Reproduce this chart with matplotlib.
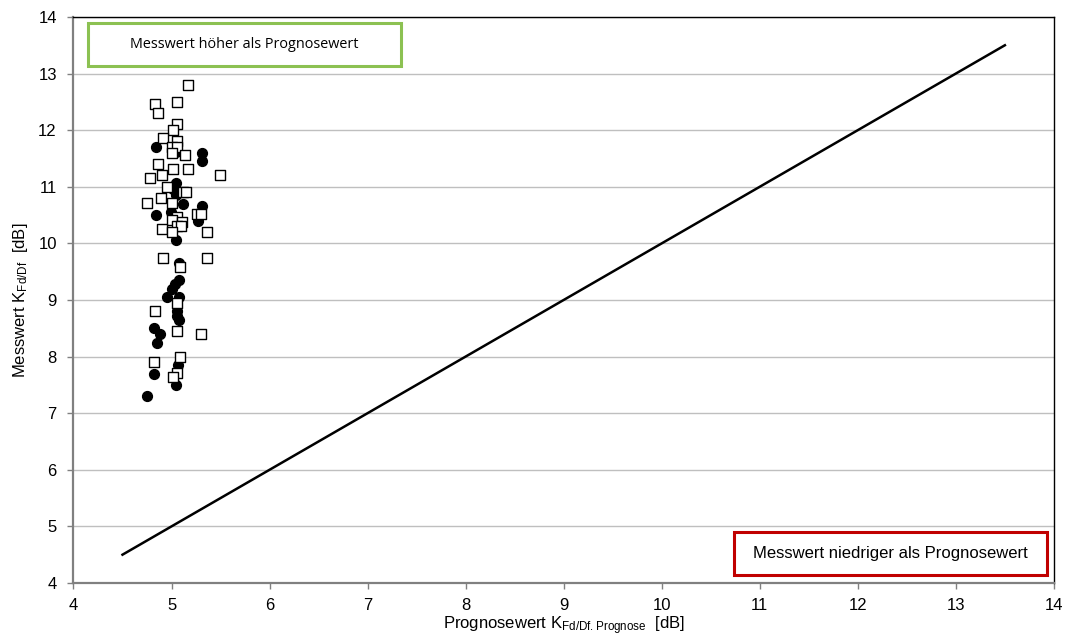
import matplotlib
matplotlib.use("Agg")
import matplotlib.pyplot as plt
from matplotlib.patches import Rectangle

plt.rcParams['font.family'] = ['Liberation Sans', 'DejaVu Sans']
plt.rcParams['mathtext.default'] = 'regular'

# Messwerte (offene Quadrate)
sq_x = [5.17, 4.83, 5.06, 4.86, 5.06, 5.02, 4.91, 5.06, 5.00, 5.06, 5.00, 5.14,
        4.86, 5.02, 5.17, 4.90, 4.78, 5.49, 4.95, 5.12, 5.15, 4.89, 4.75, 5.00,
        5.26, 5.30, 5.06, 5.00, 5.11, 5.06, 5.10, 4.90, 5.00, 5.36, 4.91, 5.36,
        5.09, 5.06, 4.83, 5.06, 5.30, 5.09, 4.82, 5.06, 5.02]
sq_y = [12.80, 12.46, 12.50, 12.30, 12.11, 12.00, 11.86, 11.81, 11.71, 11.71, 11.60, 11.56,
        11.41, 11.31, 11.31, 11.21, 11.16, 11.20, 11.00, 10.90, 10.90, 10.81, 10.71, 10.71,
        10.51, 10.51, 10.47, 10.41, 10.37, 10.31, 10.30, 10.25, 10.20, 10.20, 9.75, 9.75,
        9.59, 8.95, 8.81, 8.46, 8.40, 8.00, 7.90, 7.71, 7.64]

# Messwerte (gefüllte Kreise)
ci_x = [4.84, 5.05, 5.31, 5.31, 5.05, 5.01, 5.05, 5.12, 5.31, 4.84, 4.99, 5.27,
        5.05, 5.08, 5.08, 5.04, 5.00, 4.95, 5.08, 5.06, 5.06, 5.08, 4.82, 4.88,
        4.85, 5.07, 4.82, 5.05, 4.75]
ci_y = [11.70, 11.61, 11.60, 11.46, 11.06, 10.96, 10.86, 10.70, 10.66, 10.50, 10.55, 10.40,
        10.06, 9.65, 9.35, 9.28, 9.20, 9.05, 9.05, 8.81, 8.71, 8.65, 8.50, 8.39,
        8.24, 7.85, 7.69, 7.50, 7.31]

# Winkelhalbierende: Messwert = Prognosewert
diag = [4.5, 13.5]

fig = plt.figure(figsize=(10.68, 6.37), dpi=100)
ax = fig.add_axes([0.0688, 0.0848, 0.918, 0.8886])

ax.plot(diag, diag, color='black', lw=1.8, zorder=2)
ax.scatter(ci_x, ci_y, s=50, marker='o', color='black', zorder=3)
ax.scatter(sq_x, sq_y, s=52, marker='s', facecolor='white', edgecolor='black',
           linewidths=1.0, zorder=4)

ax.set_xlim(4, 14)
ax.set_ylim(4, 14)
ax.set_xticks(range(4, 15))
ax.set_yticks(range(4, 15))
ax.tick_params(labelsize=12, colors='#808080', length=4, width=1, labelcolor='black')
ax.tick_params(axis='x', pad=7)
ax.tick_params(axis='y', pad=8)
ax.grid(axis='y', color='#bfbfbf', lw=1)
ax.set_axisbelow(True)

for side in ['left', 'bottom']:
    ax.spines[side].set_color('#808080')
    ax.spines[side].set_linewidth(1.6)
for side in ['top', 'right']:
    ax.spines[side].set_color('black')
    ax.spines[side].set_linewidth(1.0)

ax.set_xlabel('Prognosewert K$_{Fd/Df.Prognose}$  [dB]', fontsize=12, labelpad=1)
ax.set_ylabel('Messwert K$_{Fd/Df}$  [dB]', fontsize=12, labelpad=6)

# Hinweisboxen
ax.add_patch(Rectangle((0.0148, 0.913), 0.319, 0.077, transform=ax.transAxes,
                       facecolor='white', edgecolor='#8cc152', lw=2.2, zorder=5))
ax.text(0.1738, 0.951, 'Messwert höher als Prognosewert', transform=ax.transAxes,
        ha='center', va='center', fontsize=10.4, family=['Open Sans', 'DejaVu Sans'], zorder=6)

ax.add_patch(Rectangle((0.674, 0.014), 0.319, 0.076, transform=ax.transAxes,
                       facecolor='white', edgecolor='#c00000', lw=2.2, zorder=5))
ax.text(0.8335, 0.052, 'Messwert niedriger als Prognosewert', transform=ax.transAxes,
        ha='center', va='center', fontsize=12, zorder=6)

fig.savefig('out.png', dpi=100)
